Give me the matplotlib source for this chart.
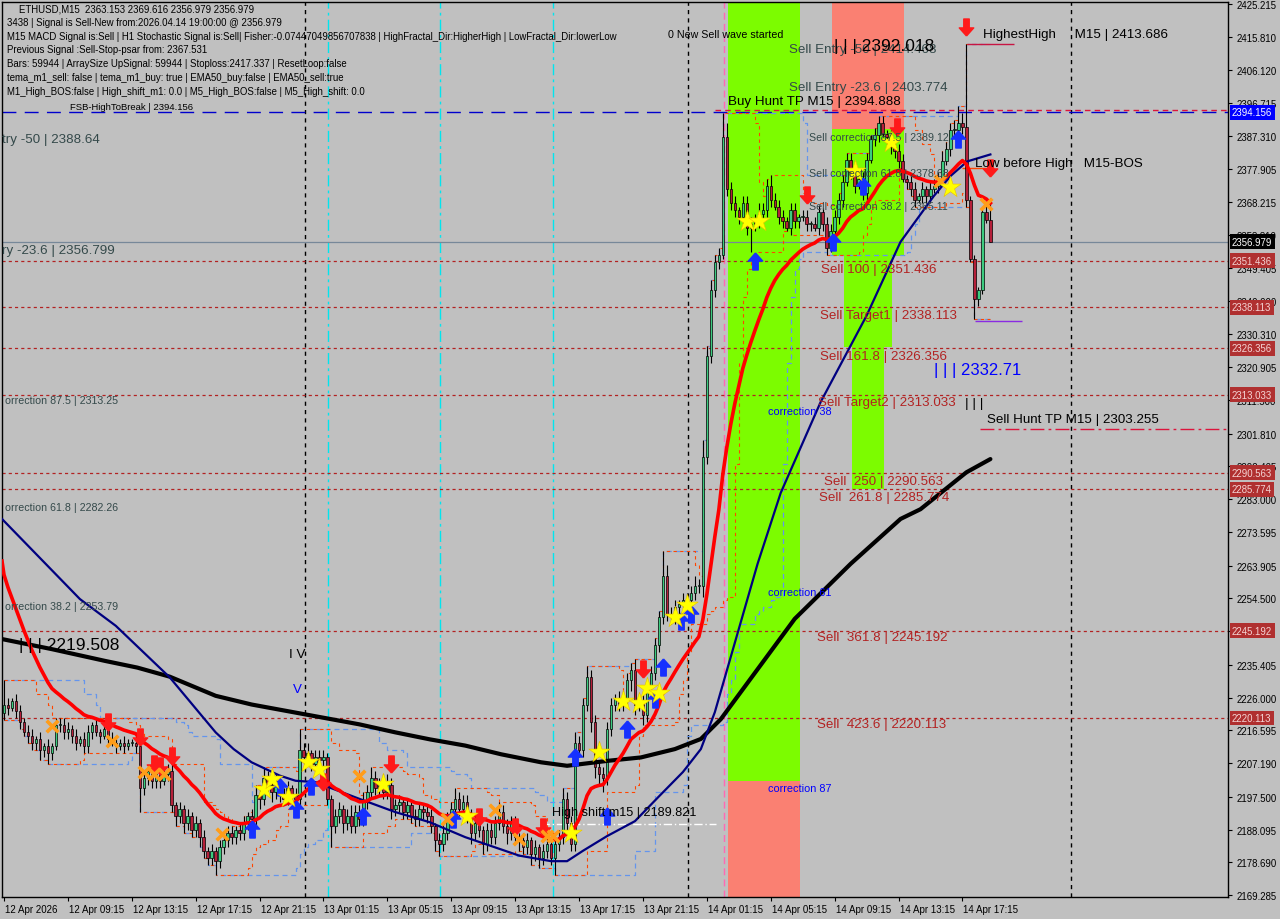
import numpy as np
import pandas as pd
import matplotlib
matplotlib.use("Agg")
import matplotlib.pyplot as plt
import matplotlib.transforms as mtransforms
from matplotlib.patches import Rectangle

plt.rcParams['font.family'] = ['Liberation Sans', 'DejaVu Sans']

# ------ DONNEES (ETHUSD M15, bougies de 15 min depuis 12 Apr 05:15) ------
first_open = 2221.5
closes = [
    2224, 2223, 2225, 2222, 2219, 2216, 2215, 2213, 2214, 2211, 2212, 2210, 2212, 2218, 2218, 2216,
    2217, 2215, 2213, 2214, 2212, 2216, 2218, 2216, 2215, 2217, 2214, 2213, 2212, 2213, 2212, 2213,
    2213, 2212, 2200, 2203, 2205, 2202, 2204, 2202, 2204, 2205, 2195, 2192, 2194, 2190, 2192, 2188,
    2190, 2186, 2182, 2180, 2182, 2179, 2183, 2185, 2187, 2186, 2188, 2187, 2190, 2192, 2191, 2198,
    2197, 2203, 2201, 2199, 2202, 2198, 2197, 2200, 2198, 2197, 2211, 2209, 2210, 2207, 2209, 2208,
    2209, 2197, 2189, 2192, 2194, 2190, 2192, 2189, 2193, 2191, 2196, 2199, 2203, 2200, 2202, 2199,
    2201, 2194, 2195, 2196, 2193, 2195, 2192, 2191, 2194, 2193, 2192, 2189, 2185, 2184, 2187, 2191,
    2194, 2197, 2194, 2196, 2192, 2187, 2190, 2188, 2184, 2188, 2186, 2190, 2193, 2189, 2187, 2190,
    2186, 2185, 2183, 2185, 2181, 2183, 2180, 2182, 2184, 2180, 2184, 2186, 2197, 2190, 2184, 2213,
    2211, 2224, 2232, 2219, 2206, 2204, 2203, 2217, 2224, 2226, 2224, 2226, 2231, 2234, 2224, 2225,
    2221, 2229, 2233, 2241, 2249, 2261, 2250, 2249, 2252, 2253, 2254, 2254, 2256, 2258, 2258, 2295,
    2324, 2343, 2351, 2353, 2387, 2372, 2368, 2366, 2364, 2368, 2361, 2362, 2363, 2365, 2366, 2373,
    2369, 2367, 2364, 2363, 2361, 2366, 2363, 2364, 2364, 2362, 2362, 2361, 2365.5, 2362, 2355, 2360,
    2364, 2369, 2374, 2380.5, 2377, 2373, 2375, 2371, 2380.5, 2386.5, 2387.5, 2391, 2388, 2387, 2384, 2383,
    2380, 2375, 2374, 2372, 2369, 2370, 2372, 2370, 2372, 2373, 2375, 2380, 2383.5, 2389, 2389, 2391,
    2390, 2369, 2352, 2340.5, 2343, 2365.5, 2363.2, 2356.979,
]
wick_up = [
    7, 2, 1, 2, 2, 1, 2, 2, 1, 2, 1, 2, 1, 2, 2, 2,
    2, 1, 2, 1, 2, 2, 1, 2, 1, 2, 1, 2, 1, 1, 2, 1,
    1, 2, 2, 2, 1, 2, 2, 1, 2, 2, 2, 1, 2, 1, 2, 1,
    2, 1, 2, 1, 2, 1, 2, 1, 2, 2, 1, 2, 2, 1, 2, 3,
    2, 3, 2, 1, 2, 1, 2, 2, 1, 2, 6, 2, 3, 1, 2, 2,
    2, 1, 1, 2, 2, 1, 2, 3, 2, 2, 3, 2, 3, 2, 1, 2,
    3, 2, 2, 2, 1, 2, 1, 2, 2, 1, 2, 2, 1, 2, 3, 2,
    2, 3, 2, 2, 2, 2, 2, 2, 1, 2, 2, 2, 3, 2, 2, 2,
    2, 1, 2, 2, 1, 2, 1, 2, 2, 2, 2, 2, 3, 2, 2, 3,
    2, 2, 3, 2, 2, 2, 2, 2, 2, 1, 2, 2, 2, 2, 3, 2,
    2, 2, 2, 2, 2, 7, 3, 2, 2, 1, 2, 2, 2, 3, 2, 5,
    3, 3, 2, 2, 7, 4, 2, 2, 1, 2, 2, 2, 2, 3, 2, 2,
    3, 2, 2, 2, 1, 2, 2, 1, 2, 2, 1, 2, 2, 1, 2, 2,
    2, 2, 2, 2, 2, 1, 2, 2, 2, 1, 2, 2, 2, 1, 2, 1,
    2, 2, 1, 2, 2, 1, 2, 1, 2, 2, 2, 3, 2, 2, 3, 5,
    3, 23.7, 1, 1, 1, 1, 2.5, 6.4,
]
wick_dn = [
    2, 2, 1, 2, 2, 1, 2, 2, 2, 3, 2, 3, 2, 1, 2, 2,
    2, 2, 2, 1, 2, 2, 2, 1, 2, 1, 2, 1, 2, 1, 2, 1,
    1, 2, 7, 2, 2, 2, 2, 2, 1, 2, 2, 3, 2, 3, 2, 2,
    2, 3, 2, 2, 2, 4, 2, 2, 2, 2, 2, 2, 2, 2, 2, 2,
    3, 2, 2, 3, 2, 2, 2, 2, 2, 2, 2, 2, 2, 2, 1, 2,
    2, 2, 6, 2, 2, 3, 2, 2, 2, 2, 2, 2, 2, 2, 2, 2,
    2, 3, 2, 2, 2, 2, 2, 2, 2, 2, 2, 2, 3, 3.5, 2, 2,
    2, 2, 2, 2, 2, 3, 2, 2, 3, 2, 2, 2, 2, 2, 3, 2,
    2, 3, 2, 2, 3, 2, 3, 2, 2, 2, 5, 2, 2, 2, 2, 2,
    2, 2, 2, 3, 3, 3, 4, 2, 2, 2, 2, 2, 2, 3, 3, 2,
    3, 2, 2, 2, 2, 2, 2, 2, 2, 2, 2, 2, 2, 2, 2, 3,
    2, 2, 2, 2, 1, 2, 2, 2, 2, 2, 2, 7, 2, 2, 2, 2,
    2, 1, 2, 2, 1, 2, 2, 2, 1, 2, 2, 1, 2, 2, 2, 1,
    1, 2, 2, 1, 2, 2, 1, 2, 2, 1, 2, 2, 1, 2, 2, 2,
    2, 1, 2, 2, 2, 1, 2, 2, 2, 1, 2, 2, 1, 2, 2, 1,
    2, 2, 1, 5.8, 2, 1, 1, 0,
]
times = pd.date_range("2026-04-12 05:15", periods=len(closes), freq="15min")

# moyenne rouge (EMA) : valeur de depart lue au bord gauche
ema_seed = 2265.2
ema_span = 20

# lignes (barre, prix)
navy_bar = [-0.5, 19, 28, 41.5, 49.5, 53, 57.5, 62, 69, 73, 78, 89, 98, 106.6, 115.5, 129, 137, 141,
            145, 151, 158, 164, 170, 174.5, 178, 188.7, 194.5, 204.5, 216, 224.5, 232.8, 237, 241.2, 247]
navy_val = [2277.3, 2254.3, 2246.6, 2231.8, 2220.8, 2216.0, 2211.2, 2207.4, 2203.6, 2202.1, 2201.7,
            2196.9, 2193.1, 2190.2, 2185.9, 2180.6, 2179.0, 2179.0, 2182.0, 2186.2, 2190.5, 2197.6,
            2204.6, 2211.2, 2221.8, 2264.4, 2284.8, 2310.9, 2335.7, 2356.9, 2370.0, 2375.8, 2380.0, 2382.0]
black_bar = [-0.5, 12, 25.4, 33.4, 41.5, 53, 62, 71, 80, 89, 98, 106.6, 115.5, 124.5, 134.5, 141, 151,
             159.5, 168, 174.5, 179.5, 198, 212, 224.5, 229.5, 241, 247]
black_val = [2242.8, 2239.9, 2236.5, 2234.6, 2232.0, 2226.5, 2224.0, 2222.1, 2220.2, 2218.3, 2216.0,
             2214.0, 2212.2, 2209.7, 2207.4, 2206.4, 2207.8, 2208.8, 2211.2, 2214.1, 2219.8, 2248.6,
             2264.4, 2277.3, 2280.1, 2290.7, 2294.5]

# niveaux
sell_levels = [2351.436, 2338.113, 2326.356, 2313.033, 2290.563, 2285.774, 2245.192, 2220.113]
fsb_high = 2394.156
buy_hunt_tp = 2394.888
sell_hunt_tp = 2303.255
bid = 2356.979
high_shift = 2189.821
highest_high = 2413.686
low_before_high = 2378.0
bos_low = 2334.2

price_ticks = [2425.215, 2415.810, 2406.120, 2396.715, 2387.310, 2377.905, 2368.215, 2358.810,
               2349.405, 2340.000, 2330.310, 2320.905, 2311.500, 2301.810, 2292.405, 2283.000,
               2273.595, 2263.905, 2254.500, 2245.095, 2235.405, 2226.000, 2216.595, 2207.190,
               2197.500, 2188.095, 2178.690, 2169.285]
hidden_tick = 2245.095   # cache par l'etiquette 2245.192

# signaux
star_bar = [65, 67, 71, 76, 79, 95, 116, 142, 149, 155, 159, 161, 164, 168, 171, 186, 189, 213, 222, 237]
star_val = [2199.7, 2202.6, 2197.4, 2207.4, 2205.5, 2201.2, 2192.1, 2187.1, 2210.4, 2225.0, 2224.4,
            2228.7, 2227.3, 2249.1, 2252.6, 2362.9, 2362.9, 2377.2, 2385.6, 2372.6]
cross_bar = [12, 27, 35, 37.5, 40, 54.5, 89, 111, 123, 129, 136, 137.5, 234.5, 246]
cross_val = [2217.9, 2213.6, 2204.5, 2204.0, 2204.0, 2186.8, 2203.6, 2191.1, 2193.8, 2185.4, 2186.3,
             2186.2, 2374.4, 2367.8]
up_bar = [62, 69, 73, 77, 90, 112.5, 143, 151, 156, 163, 165, 169.5, 172, 188, 207.7, 215, 239]
up_val = [2188.3, 2200.2, 2194.0, 2200.7, 2192.1, 2191.1, 2208.9, 2192.0, 2216.9, 2225.6, 2234.8,
          2248.0, 2250.0, 2351.4, 2356.9, 2372.9, 2386.4]
dn_bar = [26, 34, 37.5, 39, 42, 80, 97, 119, 128, 135, 160, 201, 223.5, 241, 247]
dn_val = [2218.9, 2214.6, 2206.9, 2206.4, 2209.3, 2201.7, 2206.9, 2191.6, 2188.7, 2188.7, 2234.2,
          2370.4, 2389.9, 2418.6, 2378.0]

# zones (barre debut, barre fin, prix bas, prix haut)
zone_x0 = [181.25, 181.25, 207.25, 207.25, 210.25, 212.25]
zone_x1 = [199.25, 199.25, 225.25, 225.25, 222.25, 220.25]
zone_lo = [2202.0, 2160.0, 2389.3, 2352.8, 2326.7, 2286.0]
zone_hi = [2430.0, 2202.0, 2430.0, 2389.3, 2352.8, 2326.7]
zone_col = ['#7CFC00', '#FA8072', '#FA8072', '#7CFC00', '#7CFC00', '#7CFC00']

day_sep = [75.25, 171.25, 267.25]
session_lines = [81.25, 109.25, 137.5]
wave_line = 180.25

info_lines = [
    "ETHUSD,M15  2363.153 2369.616 2356.979 2356.979",
    "3438 | Signal is Sell-New from:2026.04.14 19:00:00 @ 2356.979",
    "M15 MACD Signal is:Sell | H1 Stochastic Signal is:Sell| Fisher:-0.07447049856707838 | HighFractal_Dir:HigherHigh | LowFractal_Dir:lowerLow",
    "Previous Signal :Sell-Stop-psar from: 2367.531",
    "Bars: 59944 | ArraySize UpSignal: 59944 | Stoploss:2417.337 | ResetLoop:false",
    "tema_m1_sell: false | tema_m1_buy: true | EMA50_buy:false | EMA50_sell:true",
    "M1_High_BOS:false | High_shift_m1: 0.0 | M5_High_BOS:false | M5_High_shift: 0.0",
]

SLATE = '#34494A'
FIRE = '#B22222'
annotations = [
    ("0 New Sell wave started", 166.25, 2416.6, 'black', 7.7),
    ("Sell Entry -50 | 2414.468", 196.5, 2412.3, SLATE, 9.6),
    ("| | | 2392.018", 207.75, 2413.4, 'black', 12.5),
    ("Sell Entry -23.6 | 2403.774", 196.5, 2401.4, SLATE, 9.6),
    ("Buy Hunt TP M15 | 2394.888", 181.25, 2397.4, 'black', 9.6),
    ("Sell correction 87.5 | 2389.12", 201.5, 2387.0, SLATE, 7.7),
    ("Sell correction 61.8 | 2378.68", 201.5, 2376.7, SLATE, 7.7),
    ("Sell correction 38.2 | 2365.11", 201.5, 2367.2, SLATE, 7.7),
    ("HighestHigh     M15 | 2413.686", 245.25, 2416.6, 'black', 9.6),
    ("Low before High   M15-BOS", 243.25, 2379.5, 'black', 9.6),
    ("Sell 100 | 2351.436", 204.5, 2349.1, FIRE, 9.6),
    ("Sell Target1 | 2338.113", 204.25, 2335.9, FIRE, 9.6),
    ("Sell 161.8 | 2326.356", 204.25, 2324.1, FIRE, 9.6),
    ("| | | 2332.71", 233, 2320.1, 'blue', 12),
    ("Sell Target2 | 2313.033", 203.75, 2310.9, FIRE, 9.6),
    ("correction 38", 191.25, 2308.3, 'blue', 7.8),
    ("| | |", 240.75, 2310.6, 'black', 9.6),
    ("Sell Hunt TP M15 | 2303.255", 246.25, 2306.0, 'black', 9.6),
    ("Sell  250 | 2290.563", 205.25, 2288.2, FIRE, 9.6),
    ("Sell  261.8 | 2285.774", 204, 2283.6, FIRE, 9.6),
    ("correction 61", 191.25, 2256.3, 'blue', 7.8),
    ("Sell  361.8 | 2245.192", 203.5, 2243.4, FIRE, 9.6),
    ("Sell  423.6 | 2220.113", 203.5, 2218.3, FIRE, 9.6),
    ("correction 87", 191.25, 2200.0, 'blue', 7.8),
    ("try -50 | 2388.64", -0.5, 2386.4, SLATE, 9.6),
    ("ry -23.6 | 2356.799", -0.5, 2354.5, SLATE, 9.6),
    ("orrection 87.5 | 2313.25", 0.25, 2311.4, SLATE, 7.7),
    ("orrection 61.8 | 2282.26", 0.25, 2280.7, SLATE, 7.7),
    ("orrection 38.2 | 2253.79", 0.25, 2252.3, SLATE, 7.7),
    ("| | | 2219.508", 3.75, 2241.1, 'black', 12.5),
    ("I V", 71.25, 2238.5, 'black', 9.6),
    ("V", 72.25, 2228.4, 'blue', 9.6),
    ("High shift m15 | 2189.821", 137.25, 2193.0, 'black', 9.1),
    ("FSB-HighToBreak | 2394.156", 16.5, 2395.9, 'black', 6.8),
]

# ------ CALCULS ------
c = np.array(closes, dtype=float)
x = np.arange(len(c))
o = np.r_[first_open, c[:-1]]
body_lo = np.minimum(o, c)
body_hi = np.maximum(o, c)
hi = body_hi + np.array(wick_up)
lo = body_lo - np.array(wick_dn)

alpha = 2.0 / (ema_span + 1)
ema = []
prev = ema_seed
for v in c:
    prev = prev + alpha * (v - prev)
    ema.append(prev)

s_hi = pd.Series(hi)
s_lo = pd.Series(lo)
blue_up = s_hi.rolling(20, min_periods=1).max()
blue_dn = s_lo.rolling(20, min_periods=1).min()
ora_up = s_hi.rolling(8, min_periods=1).max()
ora_dn = s_lo.rolling(8, min_periods=1).min()

# ------ FIGURE ------
BG = '#C0C0C0'
fig = plt.figure(figsize=(12.8, 9.2), dpi=100, facecolor=BG)
ax = fig.add_axes([2 / 1280, 22 / 920, 1226 / 1280, 895 / 920], facecolor=BG)
ax.set_xlim(-0.5, 306.5)
ax.set_ylim(2168.71, 2425.79)

for x0, x1, y0, y1, col in zip(zone_x0, zone_x1, zone_lo, zone_hi, zone_col):
    ax.add_patch(Rectangle((x0, y0), x1 - x0, y1 - y0, facecolor=col, edgecolor='none', zorder=0.5))

for xv in day_sep:
    ax.axvline(xv, color='black', ls=(0, (3, 3)), lw=1, zorder=1)
for xv in session_lines:
    ax.axvline(xv, color='#00E5EE', ls=(0, (8, 3, 2, 3)), lw=1, zorder=1)
ax.axvline(wave_line, color='#FF69B4', ls=(0, (5, 3)), lw=1, zorder=1)

for lv in sell_levels:
    ax.axhline(lv, color=FIRE, ls=(0, (2.5, 2.5)), lw=0.9, zorder=1)
ax.axhline(bid, color='#778899', lw=0.9, zorder=1)
ax.axhline(fsb_high, color='#0000CD', ls=(0, (10, 6)), lw=1, zorder=1)
ax.hlines(buy_hunt_tp, 178, 306.5, color='#DC143C', ls=(0, (4, 3)), lw=1, zorder=1)
ax.hlines(sell_hunt_tp, 244.5, 306.5, color='#DC143C', ls=(0, (10, 3, 2, 3)), lw=1, zorder=1)
ax.hlines(high_shift, 134.5, 178.25, color='white', ls=(0, (6, 2, 1, 2)), lw=1, zorder=2)
ax.hlines(highest_high, 241.25, 253, color='#C71543', lw=1, zorder=2)
ax.hlines(low_before_high, 240, 248, color='#FF4500', lw=1, zorder=2)
ax.hlines(bos_low, 243.25, 255, color='#8A2BE2', lw=1, zorder=2)

# canaux en pointilles
ax.step(x, blue_up, where='post', color='#6495ED', ls=(0, (4, 3)), lw=0.9, zorder=1.5)
ax.step(x, blue_dn, where='post', color='#6495ED', ls=(0, (4, 3)), lw=0.9, zorder=1.5)
ax.step(x, ora_up, where='post', color='#FF4500', ls=(0, (3, 3)), lw=0.8, zorder=1.6)
ax.step(x, ora_dn, where='post', color='#FF4500', ls=(0, (3, 3)), lw=0.8, zorder=1.6)

# bougies
ax.vlines(x, lo, hi, color='black', lw=0.8, zorder=3)
body_col = np.where(c >= o, '#3CCB7F', '#B5203A')
ax.bar(x, np.maximum(body_hi - body_lo, 0.3), bottom=body_lo, width=0.62, color=body_col,
       edgecolor='black', linewidth=0.5, zorder=4)

# moyennes
ax.plot(black_bar, black_val, color='black', lw=3, zorder=5, solid_capstyle='round')
ax.plot(navy_bar, navy_val, color='#000080', lw=1.6, zorder=5)
ax.plot(np.r_[-0.5, x], np.r_[ema_seed, ema], color='#FF0000', lw=2.6, zorder=5.5)

# signaux
up_arrow = [(0, 1), (0.85, 0.05), (0.32, 0.05), (0.32, -1), (-0.32, -1), (-0.32, 0.05), (-0.85, 0.05), (0, 1)]
dn_arrow = [(px, -py) for px, py in up_arrow]
ax.scatter(up_bar, up_val, marker=up_arrow, s=150, color='#1530FF', zorder=7)
ax.scatter(dn_bar, dn_val, marker=dn_arrow, s=150, color='#FF1A1A', zorder=7)
ax.scatter(cross_bar, cross_val, marker='x', s=70, color='#FF9D1A', linewidths=2.6, zorder=7)
ax.scatter(star_bar, star_val, marker='*', s=260, color='#FFFF00', edgecolors='#E8C000', linewidths=0.4, zorder=8)

for txt, bx, pv, col, sz in annotations:
    ax.text(bx, pv, txt, color=col, fontsize=sz, va='center', ha='left', zorder=9, clip_on=True)

# texte info en haut a gauche
for k, line in enumerate(info_lines):
    ypx = 9 + k * 13.8
    xpx = 17 if k == 0 else 5
    ax.text(xpx / 1226, 1 - (ypx - 3) / 895, line, transform=ax.transAxes, fontsize=6.9,
            va='center', ha='left', color='black', zorder=10)

# axe des prix a droite
ax.yaxis.tick_right()
ax.set_yticks(price_ticks)
ax.set_yticklabels(["" if v == hidden_tick else f"{v:.3f}" for v in price_ticks])
ax.tick_params(axis='y', direction='out', length=3, pad=3, labelsize=6.9, colors='black')

trans = mtransforms.blended_transform_factory(ax.transAxes, ax.transData)
box_x = 1.0 + 4 / 1226
box_style = dict(edgecolor='none', pad=1.7)
for lv in sell_levels:
    ax.text(box_x, lv, f"{lv:.3f}", transform=trans, fontsize=6.9, color='#F5D5D5', va='center', ha='left',
            bbox=dict(facecolor='#B03030', **box_style), zorder=12, clip_on=False)
ax.text(box_x, fsb_high, f"{fsb_high:.3f}", transform=trans, fontsize=6.9, color='white', va='center',
        ha='left', bbox=dict(facecolor='#0000FF', **box_style), zorder=12, clip_on=False)
ax.text(box_x, bid, f"{bid:.3f}", transform=trans, fontsize=6.9, color='white', va='center', ha='left',
        bbox=dict(facecolor='black', **box_style), zorder=12, clip_on=False)

# axe du temps
tick_idx = list(range(0, len(c), 16))
tick_lab = ["12 Apr 2026" if i == 0 else times[i].strftime("%d Apr %H:%M") for i in tick_idx]
ax.set_xticks(tick_idx)
ax.set_xticklabels(tick_lab)
ax.tick_params(axis='x', direction='out', length=3, pad=2, labelsize=7, colors='black')
offset = mtransforms.ScaledTranslation(1 / 100, 0, fig.dpi_scale_trans)
for lab in ax.get_xticklabels():
    lab.set_horizontalalignment('left')
    lab.set_transform(lab.get_transform() + offset)

for sp in ax.spines.values():
    sp.set_color('black')
    sp.set_linewidth(1)

fig.savefig("out.png", dpi=100, facecolor=BG)
